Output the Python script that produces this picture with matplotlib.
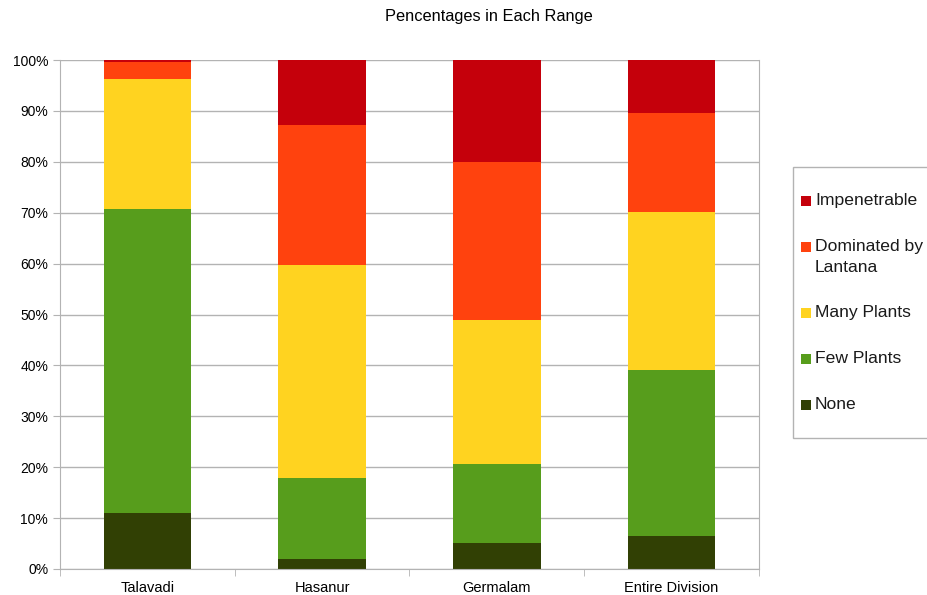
import matplotlib
matplotlib.use("Agg")
import matplotlib.pyplot as plt
import numpy as np
from matplotlib.patches import Rectangle
from matplotlib.ticker import FuncFormatter, FixedLocator

plt.rcParams["font.family"] = ["Liberation Sans", "DejaVu Sans"]

ranges = ["Talavadi", "Hasanur", "Germalam", "Entire Division"]
classes = ["None", "Few Plants", "Many Plants", "Dominated by\nLantana", "Impenetrable"]
colors = ["#314004", "#579d1c", "#ffd320", "#ff420e", "#c5000b"]

# percentage of each class per range (bottom to top)
none_pct = [11.0, 2.0, 5.1, 6.5]
few_pct = [59.8, 15.9, 15.5, 32.6]
many_pct = [25.5, 41.8, 28.3, 31.0]
lantana_pct = [3.4, 27.5, 31.1, 19.5]
impenetrable_pct = [0.3, 12.8, 20.0, 10.4]
series = [none_pct, few_pct, many_pct, lantana_pct, impenetrable_pct]

W, H = 928, 595
fig = plt.figure(figsize=(W / 100, H / 100), dpi=100)
ax = fig.add_axes([60 / W, 1 - 569 / H, (759 - 60) / W, (569 - 60) / H])

x = np.arange(len(ranges))
bottom = np.zeros(len(ranges))
for vals, col, name in zip(series, colors, classes):
    ax.bar(x, vals, bottom=bottom, width=0.5, color=col, label=name, zorder=2)
    bottom += np.array(vals)

ax.set_xlim(-0.5, len(ranges) - 0.5)
ax.set_ylim(0, 100)
ax.set_yticks(np.arange(0, 101, 10))
ax.yaxis.set_major_formatter(FuncFormatter(lambda v, _: f"{v:.0f}%"))
ax.set_xticks(x)
ax.set_xticklabels(ranges)
ax.xaxis.set_minor_locator(FixedLocator(np.arange(-0.5, len(ranges), 1.0)))
ax.tick_params(axis="x", which="major", length=0, labelsize=10.5, pad=9)
ax.tick_params(axis="x", which="minor", length=5, color="#b3b3b3")
ax.tick_params(axis="y", length=5, color="#b3b3b3", labelsize=10)
ax.grid(axis="y", color="#b3b3b3", linewidth=1, zorder=0)
ax.spines["top"].set_visible(False)
for side in ["left", "bottom", "right"]:
    ax.spines[side].set_color("#b3b3b3")

fig.text(489 / W, 1 - 17 / H, "Pencentages in Each Range", ha="center", va="center", fontsize=11.8)

# legend drawn by hand in pixel coordinates (box runs off the right edge)
def px(xp, yp):
    return xp / W, 1 - yp / H

fig.patches.append(Rectangle(px(793, 438), (W + 10 - 793) / W, (438 - 167) / H,
                             transform=fig.transFigure, facecolor="white",
                             edgecolor="#b3b3b3", linewidth=1))
entry_y = [404, 358, 312, 246, 200]
for yc, col, name in zip(entry_y, colors, classes):
    fig.patches.append(Rectangle(px(801, yc + 6), 10 / W, 10 / H,
                                 transform=fig.transFigure, facecolor=col,
                                 edgecolor="none"))
    fig.text(*px(815, yc - 7), name, ha="left", va="top", fontsize=12.6,
             linespacing=1.5, color="#1a1a1a")

fig.savefig("out.png", dpi=100)
